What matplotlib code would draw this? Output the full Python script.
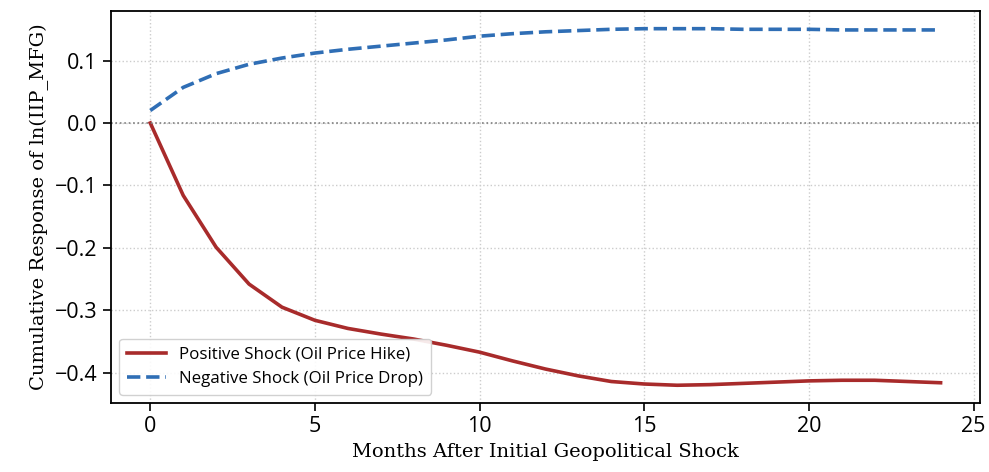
import numpy as np
import matplotlib
matplotlib.use("Agg")
import matplotlib.pyplot as plt

months = list(range(25))
positive_shock = [0.0, -0.116, -0.199, -0.258, -0.295, -0.316, -0.329, -0.338, -0.346,
                  -0.356, -0.367, -0.381, -0.394, -0.405, -0.414, -0.418, -0.420,
                  -0.419, -0.417, -0.415, -0.413, -0.412, -0.412, -0.414, -0.416]
negative_shock = [0.020, 0.057, 0.079, 0.094, 0.104, 0.112, 0.118, 0.123, 0.128,
                  0.133, 0.139, 0.143, 0.146, 0.148, 0.150, 0.151, 0.151, 0.151,
                  0.150, 0.150, 0.150, 0.149, 0.149, 0.149, 0.149]

plt.rcParams['font.family'] = ['Open Sans', 'DejaVu Sans']

fig = plt.figure(figsize=(9.89, 4.72), dpi=100)
ax = fig.add_axes([0.112, 0.146, 0.879, 0.831])

ax.plot(months, positive_shock, color='#a82b2b', linewidth=2.6,
        label='Positive Shock (Oil Price Hike)')
ax.plot(months, negative_shock, color='#2f6eb5', linewidth=2.6, linestyle='--',
        label='Negative Shock (Oil Price Drop)')
ax.axhline(0, color='gray', linewidth=1.2, linestyle=':')

ax.grid(True, linestyle=':', color='#cccccc', linewidth=1)
ax.set_axisbelow(True)
ax.set_xticks([0, 5, 10, 15, 20, 25])
ax.set_yticks([-0.4, -0.3, -0.2, -0.1, 0.0, 0.1])
ax.tick_params(labelsize=15.5, length=6, width=1.2)
for s in ax.spines.values():
    s.set_linewidth(1.3)

ax.set_xlabel('Months After Initial Geopolitical Shock', family='DejaVu Serif', fontsize=14)
ax.set_ylabel('Cumulative Response of ln(IIP_MFG)', family='DejaVu Serif', fontsize=14)

ax.legend(loc='lower left', fontsize=12.2, framealpha=0.9, borderpad=0.45, handlelength=2.3)

fig.savefig('out.png', dpi=100)
